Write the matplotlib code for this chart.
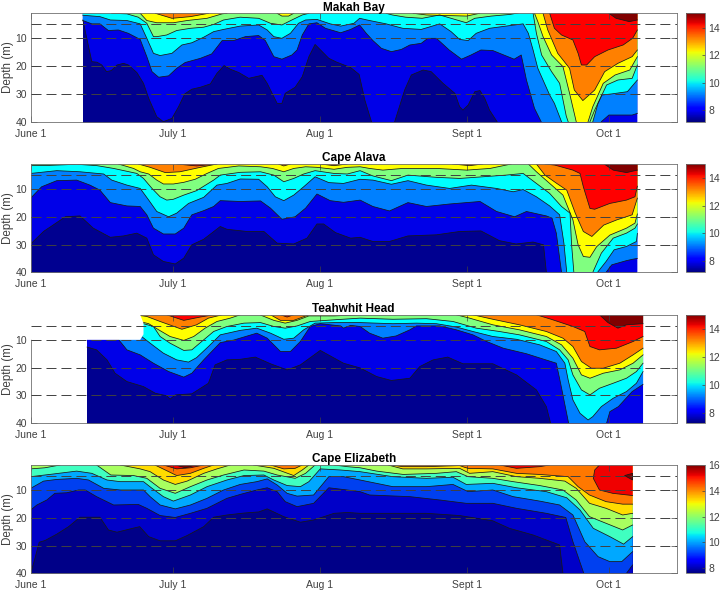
import matplotlib
matplotlib.use('Agg')
import matplotlib.pyplot as plt
from matplotlib.cm import ScalarMappable
from matplotlib.colors import Normalize

plt.rcParams['font.family'] = ['Liberation Sans', 'DejaVu Sans']

# isotherms are (day since June 1, depth in m), depth 0 / 42 means off the axis
month_days = [0, 30, 61, 92, 122]
month_names = ['June 1', 'July 1', 'Aug 1', 'Sept 1', 'Oct 1']
depth_ticks = [10, 20, 30, 40]
dash_depths = [5, 10, 20, 30]

colors_a = ['#000090', '#0000e8', '#0080ff', '#00ffff', '#80ff80', '#ffff00', '#ff8000', '#ff0000', '#800000']
colors_b = ['#000088', '#0000c8', '#0040f0', '#00a8ff', '#40ffc0', '#a8ff60', '#ffdc00', '#ff7800', '#f00000', '#800000']

makah_8 = ([11, 12.9, 14, 15, 16, 17, 18.2, 19.6, 20.6, 22.4, 23.8, 24.9, 26.6, 28, 29.8, 31.2, 32.5, 34, 35.8, 37.9, 39.3, 40.8, 42.1, 43.9, 46, 48.8, 49.9, 52, 53, 53.7, 55.8, 57.3, 58.7, 60, 62.9, 64.6, 67.5, 69.3, 70.5, 71.9, 72.3, 76.4, 76.8, 78.9, 80.3, 82.8, 84.5, 87, 89.5, 90.5, 91.2, 92.3, 93.7, 94.8, 95.8, 96.8, 98.4, 99, 128],
           [3.4, 18.4, 18.6, 19.6, 22, 21.6, 19.6, 19, 19.6, 22.3, 26.2, 31.6, 38.2, 40, 38.8, 34.6, 30, 28.3, 27.6, 26.4, 22.6, 19.8, 21.1, 22.3, 24.4, 23.3, 26.2, 33.4, 33.4, 29.8, 27.6, 23.8, 16.6, 12.2, 17.2, 18.6, 20.5, 23, 32.2, 40, 42, 42, 40, 28.6, 23.2, 21.4, 22, 26.2, 29.8, 34.6, 35.8, 34, 29.2, 28.8, 31.6, 35.8, 40, 42, 42])
makah_9 = ([11, 12.9, 14.6, 16.4, 18.5, 20.6, 23.1, 24.5, 25.6, 27, 29.1, 30.8, 32.6, 35.8, 38.2, 40.4, 42.8, 45.3, 48.1, 49.5, 51.3, 53, 55.1, 56.2, 57.3, 58.7, 60.4, 62.2, 65.4, 67.5, 69.4, 70.8, 72.2, 74, 76.1, 78.2, 80, 82.4, 83.8, 85.6, 88.3, 90.9, 92.9, 95, 97.5, 102, 103.5, 104.6, 106.3, 107.7, 108, 120, 120.4, 122, 125.1, 126.9, 128],
           [3.6, 4.8, 4.8, 7.2, 7, 8.2, 10.4, 16.6, 22, 24, 23.5, 20.8, 18.7, 17.2, 15.6, 10.8, 10.8, 9.4, 9, 10.8, 16.6, 17.5, 16, 14.2, 8.8, 4.8, 4.4, 6.4, 8, 6.8, 5.2, 8.2, 10.8, 13.6, 14.8, 14, 12.4, 11.8, 10, 10, 14.2, 17.5, 16, 14.2, 14.4, 17.5, 16, 25, 35.2, 40, 42, 42, 40, 37.6, 37.6, 37.6, 37])
makah_10 = ([11, 14.6, 16.8, 20.3, 23.1, 24.5, 25.9, 27.3, 29.8, 31.9, 34, 36.5, 38.6, 40.7, 44.2, 48.1, 49.9, 51.3, 53, 54.8, 56.5, 58, 60.4, 63.2, 65.4, 68.2, 69.4, 71.5, 75, 78.5, 82.4, 86.3, 88.7, 90.5, 92.3, 94, 96.8, 100.3, 103.9, 105, 106, 107, 109.5, 110.5, 112, 112.5, 117.5, 118, 119, 120.5, 122.6, 125.9, 128],
            [1.7, 2.2, 3.4, 3.6, 4.8, 10, 15.4, 16.2, 15.4, 12.4, 11.6, 9.6, 7.6, 6.8, 5.6, 5.2, 7, 9.4, 10, 8.2, 4.6, 3.4, 3.2, 4.8, 5.6, 4.6, 2.8, 3.6, 4.8, 6.4, 6.8, 4.8, 7.6, 10.4, 10.8, 8.2, 6.4, 5.6, 4.8, 8.2, 14.2, 20.8, 30.4, 33.4, 40, 42, 42, 40, 35.8, 30.4, 30, 29.2, 25])
makah_11 = ([16.5, 17.1, 20.3, 22.7, 24.5, 25.9, 26.6, 28.7, 30.8, 33.7, 36.5, 38.6, 40.7, 44.2, 48.1, 50.6, 53, 55.1, 57.3, 58.7, 59.2, 74.5, 75, 76.3, 79.1, 82.6, 86.3, 88.7, 91.9, 93.7, 97.2, 101.2, 105.5, 106, 106.7, 107.8, 109.9, 111.6, 113, 113.4, 113.8, 118.2, 118.6, 119.7, 121.5, 123.9, 126.9, 128],
            [0, 1, 1.2, 2.4, 4.6, 9.4, 9.4, 8.8, 7.2, 6.4, 6, 5, 3.4, 2.4, 2.8, 4.6, 5.2, 3.4, 1.6, 1, 0, 0, 1, 1.6, 2.4, 2.8, 1.6, 2.8, 4.4, 2.8, 2, 1.4, 0, 1, 8.2, 16, 22, 26.2, 38, 40, 42, 42, 40, 33.4, 26.8, 25, 24.4, 19.6])
makah_12 = ([22.6, 23.1, 24.5, 26.6, 30.1, 33, 37.2, 40.4, 41.4, 41.9, 51.5, 52, 53, 54.4, 55.5, 56, 80.2, 80.7, 83.5, 92, 94.7, 95.2, 105.8, 106.3, 107, 108.1, 109.9, 112.3, 113.7, 115.1, 115.5, 117.2, 117.6, 118.6, 120.8, 123.3, 126.4, 128],
            [0, 1, 3.6, 4.4, 4.4, 3.6, 2.8, 1.2, 1, 0, 0, 1, 2, 2, 1, 0, 0, 1, 1.6, 2, 1, 0, 0, 1, 4, 9.4, 16, 20.2, 29.8, 40, 42, 42, 40, 34.6, 26.2, 23.2, 21.4, 16.6])
makah_13 = ([25.8, 26.3, 29.8, 33.7, 37.5, 38, 107.6, 108.1, 109.1, 111.2, 113.7, 114.7, 116.5, 119, 121.1, 123.9, 126.9, 128],
            [0, 1, 2.8, 2.2, 1, 0, 0, 1, 7, 15.4, 20.8, 28.6, 32.4, 28.6, 22, 19, 16.6, 14.2])
makah_14 = ([109, 109.5, 110.5, 112, 114.4, 115.5, 116.2, 117.3, 119, 121.8, 125, 127, 128],
            [0, 1, 6.4, 8.8, 10.6, 15.4, 19.6, 19.6, 16.6, 14.2, 12.4, 10, 7])
makah_15 = ([121.5, 122, 123.5, 126.3, 128], [0, 1, 2.8, 4, 3.4])

alava_8 = ([0, 2.7, 4.8, 7.3, 10.4, 13.2, 16.8, 19.6, 22.4, 24.5, 25.9, 28, 30.5, 32.3, 34, 36.5, 40, 41.4, 45.6, 49.2, 52, 55.5, 58.3, 60.4, 61.8, 64.3, 67.5, 69.5, 72.2, 75.7, 79.6, 85.6, 90.5, 95, 98.9, 102.4, 106, 108.2, 108.8, 109.2, 128],
           [29.8, 25.3, 22.9, 20, 19.7, 24.1, 27.4, 26.9, 25.9, 27.7, 33.7, 36.1, 37, 34.9, 30.1, 28.1, 23.5, 24.5, 25.3, 25.3, 29.5, 29.8, 27.7, 22.6, 22.6, 25.7, 27.7, 27.4, 28.9, 28.9, 26.9, 26.5, 25.3, 25.1, 28.6, 29.8, 29.1, 30.1, 40, 42, 42])
alava_9 = ([0, 2.3, 5.5, 9.7, 12.5, 14.6, 16.8, 20.3, 23.1, 24.5, 25.9, 28, 30.5, 32.3, 34, 36.5, 38.6, 40, 44.2, 48.5, 50.6, 53, 55.8, 58, 60.4, 63.2, 66, 69.5, 72.2, 75.7, 79.6, 83.5, 88.4, 94.8, 98.3, 102.1, 104.6, 108.8, 110, 110.9, 112, 112.4, 121, 121.4, 122.6, 125.7, 127, 128],
           [13.3, 9.2, 7, 6.8, 8.6, 10.4, 14.9, 16.1, 16.3, 19.3, 24.1, 26.2, 26.2, 24.1, 19.3, 17.8, 16.3, 14.2, 14.5, 14.3, 16.9, 20.9, 20, 16.9, 11.8, 14.2, 14.8, 14, 16.3, 17.9, 14.9, 16.3, 15.4, 14.5, 18.1, 20, 18.1, 19.7, 20.5, 25.9, 40, 42, 42, 40, 37.3, 35.8, 35.3, 35])
alava_10 = ([0, 5.5, 10.4, 15.4, 17.1, 20.3, 23.1, 24.9, 26.6, 29.1, 30.8, 33.3, 36.5, 39.3, 41.4, 44.2, 48.1, 49.9, 51.6, 53.4, 55.5, 57.6, 60, 62.9, 66, 69.5, 72.2, 76.1, 79.6, 83.5, 88.4, 93, 98.3, 101.8, 103.9, 106.7, 109.5, 111.6, 112.5, 113.1, 113.5, 119.2, 119.6, 121.4, 123.1, 125.7, 127.8, 128],
            [4.4, 3.4, 3.8, 4.6, 6.8, 8.6, 9.8, 14, 18.1, 20, 18.7, 15.2, 13, 8.6, 8, 6.4, 6.5, 9.2, 12.8, 14.2, 12.2, 9.2, 5.6, 7.7, 8, 6.5, 6.8, 8.3, 7, 8.6, 9.8, 8.6, 9.8, 11, 10.2, 12.8, 16.1, 19.3, 29.5, 40, 42, 42, 40, 36.1, 31.9, 30.7, 28.9, 26])
alava_11 = ([0, 4, 9.7, 14, 17.5, 22.4, 23.8, 25.6, 27.3, 28.7, 30.1, 32.3, 35, 38.6, 40, 44.2, 48.5, 51.3, 53.4, 55.5, 57.6, 60, 64, 66.8, 69.5, 72.2, 76.1, 79.6, 85.6, 90.5, 95.4, 100.3, 103.9, 106.7, 109.5, 112, 113.8, 114.1, 114.6, 115, 118.2, 118.6, 120.4, 122.9, 125.7, 127.5, 128],
            [1.6, 1.5, 1.1, 1.6, 2.6, 4.4, 6.2, 9.8, 12.8, 14, 13.7, 12.2, 10.6, 6.8, 5, 4, 3.8, 5, 7.4, 6.2, 4.6, 3.4, 4.4, 4.6, 3.4, 5.3, 7, 5, 5.8, 6.2, 5.6, 5, 4.4, 8, 11.6, 16.3, 18.7, 29.5, 40, 42, 42, 40, 33.1, 27.7, 25.9, 24.1, 22.6])
alava_12 = ([18, 18.5, 21.7, 23.1, 24.9, 26.6, 28, 30.1, 32.3, 34.7, 37.2, 39.6, 43.9, 48.5, 51, 53.4, 55.5, 58, 60.4, 64, 66.8, 69.5, 71.5, 74.3, 78.5, 85.6, 92, 96.9, 101.4, 101.9, 104.5, 105, 106.7, 109.5, 112.3, 114.4, 115.5, 116.6, 118, 119.4, 122.2, 125.7, 127.5, 128],
            [0, 1, 2.6, 3.8, 4.6, 6.8, 8.2, 8.2, 7.6, 6.5, 4.4, 2.6, 1.7, 2, 2.6, 3.8, 2.6, 2, 2.2, 2.9, 2.2, 2, 2.6, 3.2, 2.6, 2.6, 3.2, 2.6, 1, 0, 0, 1, 3.8, 8, 12.2, 21.1, 30.1, 34.3, 34.6, 30.8, 26.6, 24.1, 22.3, 19])
alava_13 = ([22.2, 22.7, 25.2, 28.4, 31.5, 35.8, 39.3, 39.8, 51.8, 52.3, 53.4, 54.8, 55.3, 60.6, 61.1, 64, 66.8, 67.3, 88.5, 89, 92.6, 95.4, 95.9, 106.2, 106.7, 108.5, 111, 113.1, 114.9, 116.6, 118.4, 120.9, 123.7, 126.9, 128],
            [0, 1, 2.2, 4.1, 3.8, 2.2, 1, 0, 0, 1, 1.7, 1, 0, 0, 1, 1.6, 1, 0, 0, 1, 1.6, 1, 0, 0, 1, 5, 8, 10.4, 18.7, 25.3, 27.1, 23, 21.1, 19.3, 13.3])
alava_14 = ([30.3, 30.8, 35, 39.3, 39.8, 108, 108.5, 110.6, 114.4, 115.9, 116.6, 118, 119, 122.2, 125.7, 127.5, 128],
            [0, 1, 1.7, 1, 0, 0, 1, 1.4, 3.2, 4.4, 9.2, 17, 17.3, 15.2, 14, 12.8, 9])
alava_15 = ([120.5, 121, 122.9, 125.7, 128], [0, 1, 3.2, 4.1, 3.2])

teah_8 = ([11.9, 13.9, 16.1, 17.8, 20.3, 23.8, 26.3, 28.7, 29.4, 30.5, 34, 37.5, 38.9, 41.4, 44.2, 47.4, 50.6, 54.1, 56.9, 61.1, 66, 69.5, 73, 76.1, 80, 82.1, 84.9, 88, 91.2, 97.5, 102.5, 106.7, 108.8, 109.7, 110.1, 129.2],
          [12.6, 13.6, 17.2, 22, 25, 26.8, 29.2, 30.1, 31.3, 29.8, 29.4, 25.6, 19, 17.2, 17, 16.2, 18.6, 20.8, 19, 13.8, 18.4, 20.1, 23.2, 24.6, 23.8, 19.6, 17.2, 16.2, 18.6, 18.6, 22.6, 28, 34, 40, 42, 42])
teah_9 = ([11.9, 18.5, 20.3, 23.1, 25.9, 29.1, 32.3, 34, 36.5, 40, 42.8, 47.7, 49.9, 52.7, 54.8, 56.9, 59, 61.1, 65.4, 66, 67.5, 69.5, 71.5, 74.3, 77.1, 80, 81.4, 86.3, 89.8, 93.3, 96.2, 99.7, 104.6, 110.9, 111.8, 113.5, 113.9, 121.1, 121.5, 122.2, 124, 126.9, 129.2],
          [9, 9.8, 13.6, 15.4, 18.4, 21.4, 23.4, 22, 17.2, 11, 10.1, 7.6, 9.4, 14.2, 14.2, 10.6, 5.2, 4.2, 5, 5.8, 4.8, 5.2, 7.6, 9.4, 8.6, 6.4, 5, 5, 6.4, 8.2, 10.6, 13, 15, 18.4, 25.6, 40, 42, 42, 40, 35.8, 34, 28.6, 26])
teah_10 = ([22, 23.4, 25.2, 28, 30.8, 33.3, 35, 37.5, 40, 44.2, 47.7, 50.6, 53.4, 55.5, 57.6, 60, 64, 69.5, 76.4, 81.4, 85.6, 89.8, 93.3, 97.5, 102.5, 107.4, 110.9, 112.7, 113.4, 114.4, 115.9, 117.6, 118.6, 120.4, 122.9, 125.7, 127.8, 129.2],
           [8, 8.8, 11.2, 14.8, 17.2, 18, 16.4, 12.4, 8.2, 6.6, 5.8, 7.6, 9.8, 9.4, 6.4, 4, 3.8, 3.8, 4.2, 4, 4.2, 5.4, 7, 8.8, 9.8, 11.8, 14.2, 18.4, 24.4, 31.6, 36.4, 38.8, 37.6, 34, 31, 28.6, 25.6, 21.4])
teah_11 = ([22, 23.8, 25.9, 27.3, 29.4, 32.3, 34, 36.5, 38.6, 41.4, 45, 48.5, 51.3, 53.7, 56.2, 59, 64, 69.5, 76.4, 83.5, 89.1, 94, 98.9, 103.1, 108.8, 111.6, 113.4, 114.4, 116.2, 118, 120, 122.9, 125.7, 127.8, 129.2],
           [4, 4.2, 5.2, 8.8, 11.2, 13.8, 13.6, 10, 7, 5.2, 4, 3.8, 5.2, 5.8, 5, 3.4, 2.8, 2.2, 2.6, 2.4, 3.4, 5.8, 7, 8.2, 10.6, 13.6, 17.2, 22.6, 28, 29.8, 27.4, 25.6, 23.8, 21.4, 18.4])
teah_12 = ([22, 24.9, 27, 29.4, 32.3, 34.4, 36.8, 39.3, 42.1, 44.2, 45, 48, 48.5, 51.3, 53.7, 56.2, 58.7, 64, 69.5, 70, 89.3, 89.8, 92.6, 97.5, 103.1, 108.8, 112, 114.4, 116.2, 118, 120.8, 124.3, 127.1, 129.2],
           [3, 4.2, 6.4, 8.8, 10.2, 8.8, 5.8, 3.4, 2.2, 1, 0, 0, 1.1, 3, 4, 3, 1.4, 1.4, 1, 0, 0, 1, 2.2, 4.6, 6.4, 8.8, 11.8, 16.6, 22.6, 23.8, 22, 20.8, 18.4, 15.4])
teah_13 = ([22, 24.5, 27.3, 31.9, 35, 37.5, 40.4, 40.9, 50.1, 50.6, 52.7, 55.5, 58.7, 59.2, 92.8, 93.3, 97.5, 103.1, 108.8, 112.3, 114.4, 116.2, 118.3, 120.8, 124.3, 127.1, 129.2],
           [1, 1.6, 3.4, 6.2, 4.6, 2.2, 1, 0, 0, 1, 3, 3, 1, 0, 0, 1, 2.6, 4.6, 7, 9.4, 12.4, 17.8, 20.2, 20.2, 18.4, 15.4, 13])
teah_14 = ([28.2, 28.7, 32.3, 35.8, 38.6, 39.1, 52.2, 52.7, 54.1, 55.5, 56, 106.2, 106.7, 109.8, 114.4, 116.9, 118, 120, 123.6, 127.1, 129.2],
           [0, 1, 3, 1.8, 1, 0, 0, 1, 1.8, 1, 0, 0, 1, 2.6, 5.2, 7, 12.4, 13.6, 13, 10.6, 8.8])
teah_15 = ([119.5, 120, 121.8, 123.9, 125.7, 129.2], [0, 1, 3.8, 5.8, 4.6, 4.2])
# no data in this corner of the Teahwhit panel
teah_gap_days = [0, 11.9, 23.1, 23.8, 23.8, 23.1, 23.1, 0]
teah_gap_depth = [10, 10, 10, 8, 4, 1, 0, 0]

eliz_1 = ([0, 0.9, 1.8, 3, 5.5, 8, 10.4, 14.6, 16.4, 18.2, 21, 23, 24.9, 27.3, 30.5, 33, 36.5, 38.6, 41.4, 45, 48.1, 49.9, 53.4, 56.9, 59.7, 64, 66.8, 69.5, 76.4, 83.5, 90.5, 97.5, 101, 106, 111.6, 112.3, 112.7, 127],
          [40, 34.6, 28.8, 28.2, 25.9, 23.2, 19.8, 19.8, 24.4, 25.2, 24, 23.2, 26.8, 28.3, 28.3, 26.4, 23.2, 19.8, 19, 18.3, 17.9, 16.8, 19.6, 21.6, 20.8, 18.4, 18.1, 18.4, 18.4, 18.4, 19.2, 21.1, 23.8, 26.2, 29.8, 40, 42, 42])
eliz_2 = ([0, 1.3, 3.4, 5.1, 7.6, 10.1, 11.5, 13.9, 17.5, 22.7, 24.5, 27.3, 30.5, 33.7, 37.2, 41.4, 44.2, 47.7, 49.9, 52, 53.7, 56.2, 59.7, 62.9, 66.8, 69.5, 71.5, 80, 86.3, 91.9, 97.5, 102.5, 108.8, 112.9, 114.4, 116.7, 117.1, 125.3, 125.7, 127],
          [17.2, 15.4, 13.6, 11.2, 11, 10, 10, 12.4, 15.4, 15.2, 16.6, 19.2, 19.9, 18.4, 16.6, 13, 11.6, 10, 9.2, 10.6, 14.2, 16, 14.8, 9.2, 10, 10.6, 11.8, 12.4, 13.6, 14.8, 14.8, 16.6, 18.4, 19.9, 28.6, 40, 42, 42, 40, 37])
eliz_3 = ([0, 2.7, 5.5, 9.7, 12.2, 15.4, 18.9, 23.8, 25.2, 27.3, 30.5, 33.7, 37.2, 40.7, 44.2, 47.7, 49.9, 52, 54.1, 56.2, 59.7, 62.9, 66, 69.5, 76.4, 83.5, 89.1, 92.3, 97.5, 101.8, 107.4, 111.6, 114.4, 116.9, 119.7, 122.2, 124.7, 127],
          [9.4, 6.8, 6.2, 5.8, 6.4, 9.4, 10, 10, 12.4, 15.4, 16.8, 15.4, 13, 10, 8, 7, 6, 8.2, 11.2, 12.2, 11.8, 5.2, 5.2, 6.4, 8.8, 8.8, 8, 10.6, 10, 12.4, 14, 15.4, 19, 28.6, 34, 35.8, 35.8, 32.2])
eliz_4 = ([0, 4, 9.7, 12.9, 16.1, 18.9, 23.8, 25.6, 28, 30.1, 33.7, 37.2, 41.4, 45, 49.2, 51.3, 54.1, 56.9, 58.7, 61.1, 65.4, 69.5, 76.4, 83.5, 89.1, 91.9, 97.5, 102.5, 108.8, 113.1, 115.9, 118.7, 122.2, 125.1, 127],
          [5.2, 4.4, 3.2, 4, 6.4, 7, 7, 9.4, 12.4, 14, 11.8, 8.8, 6.4, 4.8, 4.6, 6.4, 8.4, 8.8, 7, 2.4, 2.8, 3.4, 5.2, 5.8, 5.4, 8, 7.6, 9.2, 10.6, 12.8, 17.2, 23.8, 26.8, 29.5, 26.8])
eliz_5 = ([0, 3, 6.2, 6.7, 13.4, 13.9, 16.9, 21.7, 24.5, 27.3, 30.5, 33.7, 37.2, 40.7, 45, 49.2, 52, 55.8, 58, 60, 60.5, 63.5, 64, 66.8, 69.5, 73, 78.6, 85.6, 89.8, 92.3, 97.5, 101.8, 107.4, 112.3, 115.1, 117.9, 121.4, 124.9, 127],
          [2.4, 2, 1, 0, 0, 1, 4.6, 4.8, 5.8, 9.4, 11.2, 8.8, 6.4, 4.6, 2.8, 3.2, 4.6, 5.8, 4, 1, 0, 0, 1, 1.6, 2, 3.2, 4.4, 4, 3.4, 5.2, 5.8, 7, 8.4, 10, 13.6, 19.6, 22, 24.4, 22.6])
eliz_6 = ([18.4, 18.9, 23.1, 25.2, 28, 30.5, 33, 36.5, 39.3, 42.1, 42.6, 46.5, 47, 51.3, 55.5, 57.3, 58.7, 59.2, 74.9, 75.4, 78.5, 83.5, 90.5, 92.6, 97.5, 102.5, 107.4, 112.7, 115.1, 117.9, 121.4, 124.9, 127],
          [0, 1, 2.4, 3.4, 6.4, 8, 6.8, 4, 2.4, 1, 0, 0, 1, 2.2, 4.8, 2.8, 1, 0, 0, 1, 2.4, 2.4, 2.2, 4, 3.4, 5.2, 5.8, 6.8, 9.4, 14.8, 16.6, 19, 18.4])
eliz_7 = ([25.7, 26.2, 28.4, 30.8, 33.7, 36.5, 38.6, 39.1, 50.1, 50.6, 53.4, 55.8, 57.3, 57.8, 75.6, 76.1, 78.5, 83.5, 90.5, 91.5, 92.3, 97.5, 102.5, 107.4, 113.4, 115.5, 117.9, 121.4, 124.9, 127],
          [0, 1, 2.8, 4.8, 4, 2.2, 1, 0, 0, 1, 2.4, 2.2, 1, 0, 0, 1, 1.6, 1.6, 1.2, 1.8, 2.2, 2.4, 4, 4.4, 5.2, 8.8, 11.8, 14.2, 15.1, 15.1])
eliz_8 = ([27.5, 28, 30.8, 33.7, 36.5, 37, 98.5, 99, 102.5, 107.4, 109.5, 110, 120.5, 120, 119, 118.7, 120, 122.8, 127],
          [0, 1, 2.4, 2, 1, 0, 0, 1, 2.2, 1.6, 1, 0, 0, 1, 2.8, 5.8, 10, 11.2, 12])
eliz_9 = ([30, 30.5, 32.6, 35, 35.5], [0, 1, 2, 1, 0])
eliz_core_days = [125.3, 127, 127]
eliz_core_depth = [4.8, 4, 6.4]

panels = [
    ('Makah Bay', [makah_8, makah_9, makah_10, makah_11, makah_12, makah_13, makah_14, makah_15], colors_a, 11, 128, 7.15, 15.05, [8, 10, 12, 14]),
    ('Cape Alava', [alava_8, alava_9, alava_10, alava_11, alava_12, alava_13, alava_14, alava_15], colors_a, 0, 128, 7.18, 15.04, [8, 10, 12, 14]),
    ('Teahwhit Head', [teah_8, teah_9, teah_10, teah_11, teah_12, teah_13, teah_14, teah_15], colors_a, 11.9, 129.2, 7.28, 15.03, [8, 10, 12, 14]),
    ('Cape Elizabeth', [eliz_1, eliz_2, eliz_3, eliz_4, eliz_5, eliz_6, eliz_7, eliz_8, eliz_9], colors_b, 0, 127, 7.6, 16, [8, 10, 12, 14, 16]),
]
# pixel rows of each panel in the figure (top, bottom)
rows = [(13.3, 121.7), (164, 272.3), (314.8, 423.3), (465, 573.3)]

W, H = 720, 591
GRAY = '#404040'
fig = plt.figure(figsize=(W / 100, H / 100), dpi=100)

for (title, isos, colors, start, end, vmin, vmax, cticks), (top, bot) in zip(panels, rows):
    ax = fig.add_axes([30.7 / W, 1 - bot / H, 646 / W, (bot - top) / H])
    ax.fill_between([start, end], 0, 42, color=colors[0], lw=0)

    # warmer water always sits on top, so paint from cold to warm
    for (days, depth), col in zip(isos, colors[1:]):
        ax.fill(list(days) + [days[-1], days[0]], list(depth) + [0, 0], color=col, lw=0)
        ax.plot(days, depth, color='#181818', lw=0.55)

    if title == 'Teahwhit Head':
        ax.fill(teah_gap_days, teah_gap_depth, color='white', lw=0, zorder=3)
    if title == 'Cape Elizabeth':
        ax.fill(eliz_core_days, eliz_core_depth, facecolor=colors[-1], edgecolor='#181818', lw=0.55)

    for d in dash_depths:
        ax.plot([0, 136.3], [d, d], color='#404040', lw=0.7, ls=(0, (10.3, 5.1)), zorder=4)

    ax.set_xlim(0, 136.3)
    ax.set_ylim(40, 1)
    ax.set_xticks(month_days)
    ax.set_xticklabels(month_names)
    ax.set_yticks(depth_ticks)
    ax.set_ylabel('Depth (m)', fontsize=8.4, color=GRAY, labelpad=1.5)
    ax.tick_params(direction='in', length=4.5, width=0.5, color=GRAY, labelcolor=GRAY, labelsize=7.5, pad=2.5)
    ax.tick_params(axis='x', top=True, pad=5)
    ax.tick_params(axis='y', right=True)
    ax.set_title(title, fontsize=8.5, fontweight='bold', pad=2)
    for s in ax.spines.values():
        s.set_color('#707070')
        s.set_linewidth(0.6)

    cax = fig.add_axes([685.7 / W, 1 - bot / H, 19.3 / W, (bot - top) / H])
    cb = fig.colorbar(ScalarMappable(Normalize(vmin, vmax), 'jet'), cax=cax)
    cb.set_ticks(cticks)
    cb.outline.set_edgecolor('#707070')
    cb.outline.set_linewidth(0.6)
    cax.tick_params(direction='in', length=2, width=0.5, color=GRAY, labelcolor=GRAY, labelsize=7.5, pad=2.5)

fig.savefig('out.png', dpi=100)
